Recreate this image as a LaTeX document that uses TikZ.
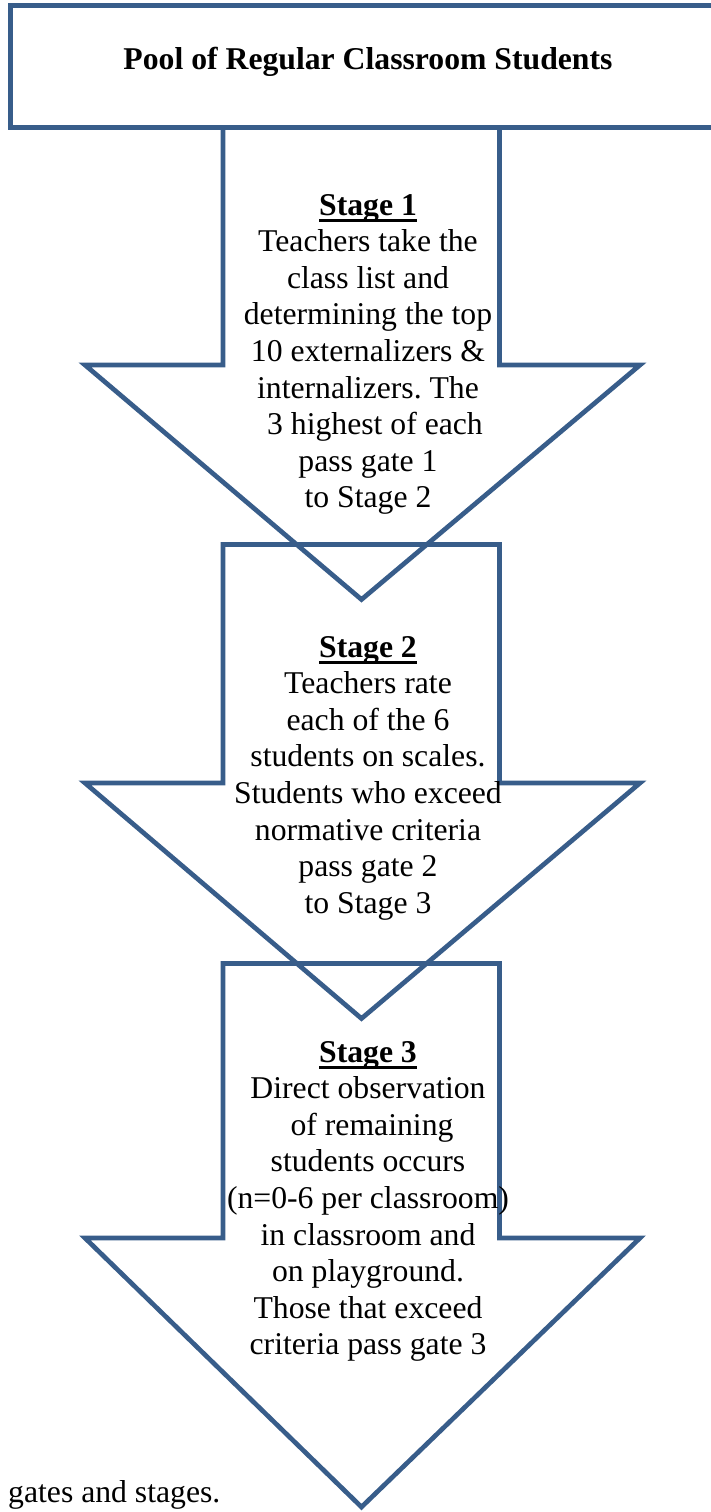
\documentclass[tikz,border=0pt]{standalone}
\usepackage{fontspec}
\setmainfont{Liberation Serif}
\frenchspacing
\definecolor{outl}{HTML}{385D8A}
\newcommand\myul[1]{\setbox0\hbox{#1}\rlap{\rule[-7pt]{\wd0}{3.5pt}}\box0}
\begin{document}
\begin{tikzpicture}[x=1pt,y=-1pt,
  outline/.style={draw=outl, line width=4.7pt, line join=miter},
  txt/.style={font=\fontsize{31.7pt}{36.6pt}\selectfont, inner sep=0pt, align=center, anchor=base}]
\clip (0,0) rectangle (711,1512);
% title box (runs past the right edge)
\draw[outline] (740,5.5) -- (10.5,5.5) -- (10.5,127.5) -- (740,127.5);
\node[txt] (title) at (368,70) {\bfseries Pool of Regular Classroom Students};
% arrows
\draw[outline] (223,127.5) -- (223,365) -- (85,365) -- (361.5,599.5) -- (640,365) -- (499.5,365) -- (499.5,127.5);
\draw[outline] (223,544.5) -- (223,783) -- (85,783) -- (361.5,1018.5) -- (640,783) -- (499.5,783) -- (499.5,544.5) -- cycle;
\draw[outline] (223,963.5) -- (223,1238) -- (85,1238) -- (361.5,1507) -- (640,1238) -- (499.5,1238) -- (499.5,963.5) -- cycle;
% texts (anchor base = baseline of the last line)
\node[txt] (s1) at (368,507.8) {\myul{\bfseries Stage 1}\\Teachers take the\\class list and\\determining the top\\10 externalizers \&\\internalizers. The\\\hspace{14pt}3 highest of each\\pass gate 1\\to Stage 2};
\node[txt] (s2) at (368,913.2) {\myul{\bfseries Stage 2}\\Teachers rate\\each of the 6\\students on scales.\\Students who exceed\\normative criteria\\pass gate 2\\to Stage 3};
\node[txt] (s3) at (368,1354.8) {\myul{\bfseries Stage 3}\\Direct observation\\\hspace{8pt}of remaining\\students occurs\\(n=0-6 per classroom)\\in classroom and\\on playground.\\Those that exceed\\criteria pass gate 3};
\node[txt, anchor=base west] (cap) at (8,1502) {gates and stages.};
\end{tikzpicture}
\end{document}
